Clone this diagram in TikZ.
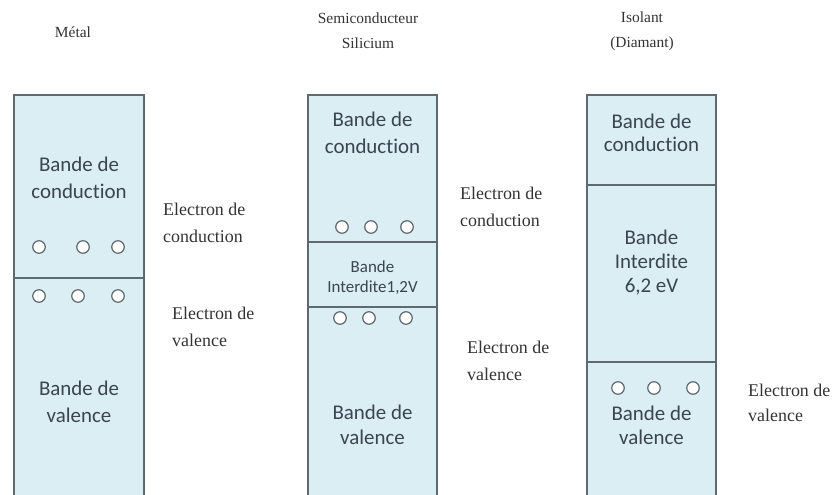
\documentclass[tikz,border=0pt]{standalone}
\usepackage{fontspec}
\setmainfont{Liberation Serif}
\newfontfamily\carl[Ligatures=NoCommon]{Carlito}
\usetikzlibrary{positioning}
\definecolor{bandfill}{HTML}{DAEEF3}
\definecolor{bandline}{HTML}{5E6A70}
\definecolor{bandtxt}{HTML}{3A4550}
\tikzset{
  band/.style={draw=bandline, fill=bandfill, line width=1.3pt, minimum width=130bp, inner sep=0pt},
  btxt/.style={font=\carl\fontsize{21}{27}\selectfont, text=bandtxt, align=center, inner sep=0pt},
  stxt/.style={font=\carl\fontsize{17}{20}\selectfont, text=bandtxt, align=center, inner sep=0pt},
  elec/.style={circle, draw=bandline, fill=white, line width=1.2pt, minimum size=12.5bp, inner sep=0pt},
  lbl/.style={anchor=west, font=\fontsize{18}{27}\selectfont, text=black!80, align=left, inner sep=0pt},
  ttl/.style={font=\fontsize{15.5}{25}\selectfont, text=black!80, align=center, inner sep=0pt}}

\begin{document}
\begin{tikzpicture}[x=1bp, y=-1bp]
\useasboundingbox (0,0) rectangle (837,495);
% titres
\node[ttl] (tm) at (73,32) {Métal};
\node[ttl] (ts) at (368,30.5) {Semiconducteur\\Silicium};
\node[ttl] (ti) at (642,31.5) {Isolant\\(Diamant)};
% metal
\node[band, minimum height=183bp] (mc) at (79,186.5) {};
\node[band, minimum height=218bp] (mv) at (79,387) {};
\node[btxt] at (79,178) {Bande de\\conduction};
\node[btxt] at (79,401.5) {Bande de\\valence};
\foreach \x [count=\i] in {39,83,118} \node[elec] (mu\i) at (\x,247) {};
\foreach \x [count=\i] in {39,78,118} \node[elec] (ml\i) at (\x,296) {};
\node[lbl] (mec) at (163,223) {Electron de\\conduction};
\node[lbl] (mev) at (172,326.5) {Electron de\\valence};
% semiconducteur
\node[band, minimum width=129bp, minimum height=147bp] (sc) at (372.5,168.5) {};
\node[band, minimum width=129bp, minimum height=65bp] (sg) at (372.5,274.5) {};
\node[band, minimum width=129bp, minimum height=189bp] (sv) at (372.5,401.5) {};
\node[btxt] at (372.5,133) {Bande de\\conduction};
\node[stxt] at (372.5,278) {Bande\\Interdite1,2V};
\node[btxt, font=\carl\fontsize{21}{25}\selectfont] at (372.5,424.5) {Bande de\\valence};
\foreach \x [count=\i] in {342,371,407} \node[elec] (su\i) at (\x,227) {};
\foreach \x [count=\i] in {340,369,406} \node[elec] (sl\i) at (\x,318) {};
\node[lbl] (sec) at (460,206.5) {Electron de\\conduction};
\node[lbl] (sev) at (467,360.5) {Electron de\\valence};
% isolant
\node[band, minimum width=129bp, minimum height=90bp] (ic) at (651.5,140) {};
\node[band, minimum width=129bp, minimum height=177bp] (ig) at (651.5,273.5) {};
\node[band, minimum width=129bp, minimum height=134bp] (iv) at (651.5,429) {};
\node[btxt, font=\carl\fontsize{21}{23}\selectfont] at (651.5,132.5) {Bande de\\conduction};
\node[btxt, font=\carl\fontsize{21}{24}\selectfont] at (651.5,262.5) {Bande\\Interdite\\6,2 eV};
\node[btxt, font=\carl\fontsize{21}{24}\selectfont] at (651.5,425) {Bande de\\valence};
\foreach \x [count=\i] in {618,654,693} \node[elec] (iu\i) at (\x,388) {};
\node[lbl, font=\fontsize{18}{25}\selectfont] (iev) at (748,402.5) {Electron de\\valence};
\end{tikzpicture}
\end{document}
